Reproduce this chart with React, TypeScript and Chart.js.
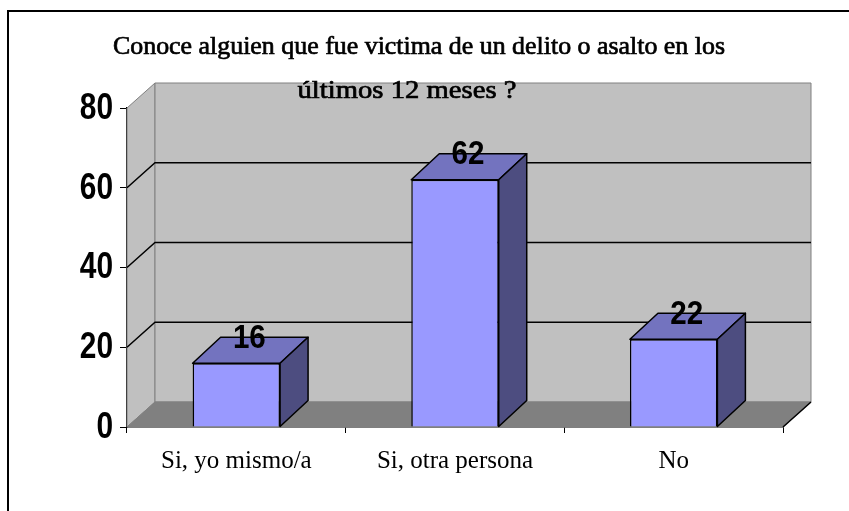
import React, { useEffect, useRef } from "react";
import { Chart, registerables } from "chart.js";

Chart.register(...registerables);

const categories = ["Si, yo mismo/a", "Si, otra persona", "No"];
const values = [16, 62, 22];
const yTicks = [0, 20, 40, 60, 80];
const titleLines = [
  "Conoce alguien que fue victima de un delito o asalto en los",
  "últimos 12 meses ?",
];

const DX = 28;
const DY = -25;
const BAR_DY = -26;

const SERIF = "'Liberation Serif', 'Times New Roman', serif";
const SANS = "'Liberation Sans', Arial, sans-serif";

function fitText(ctx: any, text: string, cx: number, baseline: number, targetWidth: number) {
  const w = ctx.measureText(text).width;
  const sx = targetWidth / w;
  ctx.save();
  ctx.translate(cx, baseline);
  ctx.scale(sx, 1);
  ctx.fillText(text, 0, 0);
  ctx.strokeText(text, 0, 0);
  ctx.restore();
}

const framePlugin = {
  id: "frame3d",
  beforeDraw(chart: any) {
    const ctx = chart.ctx;
    ctx.save();
    ctx.fillStyle = "#ffffff";
    ctx.fillRect(0, 0, chart.width, chart.height);
    ctx.strokeStyle = "#000000";
    ctx.lineWidth = 2;
    ctx.strokeRect(8, 11, chart.width + 20, chart.height + 20);
    ctx.restore();
  },
  beforeDatasetsDraw(chart: any) {
    const ctx = chart.ctx;
    const { left, right, top, bottom } = chart.chartArea;
    const y = chart.scales.y;
    ctx.save();
    ctx.lineWidth = 1;
    ctx.strokeStyle = "#808080";
    // left side wall
    ctx.fillStyle = "#C0C0C0";
    ctx.beginPath();
    ctx.moveTo(left, bottom);
    ctx.lineTo(left, top);
    ctx.lineTo(left + DX, top + DY);
    ctx.lineTo(left + DX, bottom + DY);
    ctx.closePath();
    ctx.fill();
    ctx.stroke();
    // back wall
    ctx.beginPath();
    ctx.rect(left + DX, top + DY, right - left, bottom - top);
    ctx.fill();
    ctx.stroke();
    // floor
    ctx.fillStyle = "#808080";
    ctx.beginPath();
    ctx.moveTo(left, bottom);
    ctx.lineTo(right, bottom);
    ctx.lineTo(right + DX, bottom + DY);
    ctx.lineTo(left + DX, bottom + DY);
    ctx.closePath();
    ctx.fill();
    ctx.stroke();
    // grid lines
    ctx.strokeStyle = "#000000";
    ctx.lineWidth = 1.5;
    yTicks.forEach((v) => {
      if (v <= y.min || v >= y.max) return;
      const py = y.getPixelForValue(v);
      ctx.beginPath();
      ctx.moveTo(left, py);
      ctx.lineTo(left + DX, py + DY);
      ctx.lineTo(right + DX, py + DY);
      ctx.stroke();
    });
    // floor right edge
    ctx.beginPath();
    ctx.moveTo(right, bottom);
    ctx.lineTo(right + DX, bottom + DY);
    ctx.stroke();
    ctx.restore();
  },
  afterDatasetsDraw(chart: any) {
    const ctx = chart.ctx;
    const meta = chart.getDatasetMeta(0);
    ctx.save();
    ctx.lineWidth = 1.5;
    ctx.strokeStyle = "#000000";
    ctx.lineJoin = "round";
    meta.data.forEach((bar: any, i: number) => {
      const { x, y, base, width } = bar.getProps(["x", "y", "base", "width"], true);
      const l = x - width / 2;
      const r = x + width / 2;
      // top face
      ctx.fillStyle = "#7373BF";
      ctx.beginPath();
      ctx.moveTo(l, y);
      ctx.lineTo(r, y);
      ctx.lineTo(r + DX, y + BAR_DY);
      ctx.lineTo(l + DX, y + BAR_DY);
      ctx.closePath();
      ctx.fill();
      ctx.stroke();
      // side face
      ctx.fillStyle = "#4D4D80";
      ctx.beginPath();
      ctx.moveTo(r, y);
      ctx.lineTo(r, base);
      ctx.lineTo(r + DX, base + BAR_DY);
      ctx.lineTo(r + DX, y + BAR_DY);
      ctx.closePath();
      ctx.fill();
      ctx.stroke();
      // value label
      ctx.save();
      ctx.fillStyle = "#000000";
      ctx.font = "bold 34px " + SANS;
      ctx.textAlign = "center";
      ctx.textBaseline = "middle";
      ctx.translate(x + DX / 2 - 1, y + BAR_DY + 1);
      ctx.scale(0.87, 1);
      ctx.fillText(String(values[i]), 0, 0);
      ctx.restore();
    });
    ctx.restore();
  },
  afterDraw(chart: any) {
    const ctx = chart.ctx;
    const yScale = chart.scales.y;
    ctx.save();
    ctx.fillStyle = "#000000";
    // y axis tick labels (condensed bold sans)
    ctx.font = "bold 36px " + SANS;
    ctx.textAlign = "right";
    ctx.textBaseline = "middle";
    yTicks.forEach((v) => {
      const py = yScale.getPixelForValue(v);
      ctx.save();
      ctx.translate(yScale.right - 14, py + 1);
      ctx.scale(0.83, 1);
      ctx.fillText(String(v), 0, 0);
      ctx.restore();
    });
    // title (semi-bold look: fill + thin stroke)
    ctx.font = "26px " + SERIF;
    ctx.textAlign = "center";
    ctx.textBaseline = "alphabetic";
    ctx.strokeStyle = "#000000";
    ctx.lineWidth = 0.7;
    fitText(ctx, titleLines[0], 419, 54, 612);
    fitText(ctx, titleLines[1], 407, 98, 219);
    ctx.restore();
  },
};

export default function App() {
  const canvasRef = useRef<HTMLCanvasElement | null>(null);

  useEffect(() => {
    document.body.style.margin = "0";
    document.body.style.overflow = "hidden";
    const canvas = canvasRef.current;
    if (!canvas) return;
    const chart = new Chart(canvas, {
      type: "bar",
      data: {
        labels: categories,
        datasets: [
          {
            data: values,
            backgroundColor: "#9999FF",
            borderColor: "#000000",
            borderWidth: 1.5,
            barPercentage: 0.4,
            categoryPercentage: 1,
          },
        ],
      },
      options: {
        responsive: false,
        animation: false,
        layout: { padding: { top: 108, right: 66, left: 0, bottom: 0 } },
        plugins: {
          legend: { display: false },
          tooltip: { enabled: false },
          title: { display: false },
        },
        scales: {
          x: {
            grid: {
              display: true,
              drawOnChartArea: false,
              drawTicks: true,
              tickLength: 6,
              color: "#000000",
              offset: true,
            },
            border: { display: true, color: "#000000", width: 1.5 },
            ticks: {
              color: "#000000",
              padding: 13,
              maxRotation: 0,
              font: { family: SERIF, size: 25 },
            },
            afterFit: (s: any) => {
              s.height = 84;
            },
          },
          y: {
            min: 0,
            max: 80,
            afterBuildTicks: (s: any) => {
              s.ticks = yTicks.map((v) => ({ value: v }));
            },
            grid: {
              drawOnChartArea: false,
              drawTicks: true,
              tickLength: 7,
              color: "#000000",
            },
            border: { display: true, color: "#000000", width: 1.5 },
            ticks: { display: false },
            afterFit: (s: any) => {
              s.width = 127;
            },
          },
        },
      },
      plugins: [framePlugin],
    } as any);
    return () => chart.destroy();
  }, []);

  return (
    <div style={{ width: 849, height: 511, position: "relative" }}>
      <canvas ref={canvasRef} width={849} height={511} style={{ display: "block" }} />
    </div>
  );
}
